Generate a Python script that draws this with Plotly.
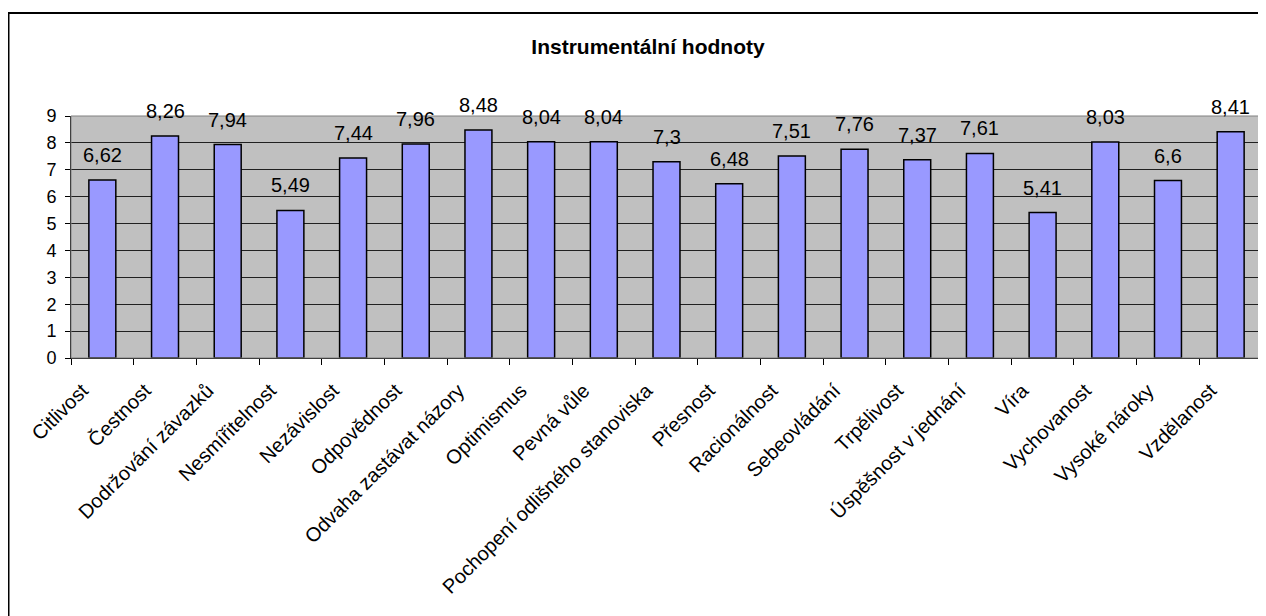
import plotly.graph_objects as go

categories = ["Citlivost", "Čestnost", "Dodržování závazků", "Nesmířitelnost", "Nezávislost",
              "Odpovědnost", "Odvaha zastávat názory", "Optimismus", "Pevná vůle",
              "Pochopení odlišného stanoviska", "Přesnost", "Racionálnost", "Sebeovládání",
              "Trpělivost", "Úspěšnost v jednání", "Víra", "Vychovanost", "Vysoké nároky",
              "Vzdělanost"]
values = [6.62, 8.26, 7.94, 5.49, 7.44, 7.96, 8.48, 8.04, 8.04, 7.3, 6.48, 7.51, 7.76,
          7.37, 7.61, 5.41, 8.03, 6.6, 8.41]
y_ticks = [0, 1, 2, 3, 4, 5, 6, 7, 8, 9]
title_text = "Instrumentální hodnoty"

FONT = "Liberation Sans, Arial, sans-serif"

# the page body has an 8px margin, so the figure is placed at (8, 8)
W, H = 1258, 608
L, R, T, B = 63, 4, 108, 258
plot_w = W - L - R
plot_h = H - T - B

fig = go.Figure()
fig.add_trace(go.Bar(
    x=categories, y=values,
    marker=dict(color="#9999FF", line=dict(color="black", width=1.5)),
    width=0.43,
    hoverinfo="x+y",
))

annotations = []
for c, v in zip(categories, values):
    annotations.append(dict(
        x=c, y=v, xref="x", yref="y", text=f"{v:g}".replace(".", ","),
        showarrow=False, yanchor="bottom", yshift=12,
        font=dict(family=FONT, size=20, color="black"),
    ))

# outer chart frame (extends beyond the bottom/right of the picture)
x0 = (0.5 - L) / plot_w
y1 = (H - B - 5) / plot_h
fig.add_shape(type="rect", xref="paper", yref="paper", x0=x0, x1=1.05, y0=-2.0, y1=y1,
              line=dict(color="black", width=2), fillcolor="rgba(0,0,0,0)", layer="below")

fig.update_layout(
    width=W, height=H,
    margin=dict(l=L, r=R, t=T, b=B, pad=0),
    paper_bgcolor="white",
    plot_bgcolor="#C0C0C0",
    showlegend=False,
    bargap=0.57,
    separators=", ",
    title=dict(text="<b>" + title_text + "</b>", x=640 / W, xanchor="center",
               y=1 - 39 / H, yanchor="middle", yref="container",
               font=dict(family=FONT, size=21, color="black")),
    annotations=annotations,
    font=dict(family=FONT, color="black"),
)
fig.update_xaxes(
    type="category", tickson="boundaries", ticks="outside", ticklen=6, tickcolor="black",
    showline=True, linecolor="black", linewidth=1, mirror=False,
    tickangle=-45, tickfont=dict(family=FONT, size=20, color="black"),
    ticklabelstandoff=12, ticklabelshift=-20,
    showgrid=False, range=[-0.5, len(categories) - 0.5],
)
fig.update_yaxes(
    range=[0, 9], tickvals=y_ticks, ticks="outside", ticklen=5, tickcolor="black",
    showline=True, linecolor="black", linewidth=1,
    showgrid=True, gridcolor="#202020", gridwidth=1, zeroline=False,
    tickfont=dict(family=FONT, size=18, color="black"), ticklabelstandoff=5,
)
# plot-area border
fig.add_shape(type="rect", xref="paper", yref="paper", x0=0, x1=1, y0=0, y1=1,
              line=dict(color="#808080", width=1), fillcolor="rgba(0,0,0,0)")

fig.write_html("out.html")
